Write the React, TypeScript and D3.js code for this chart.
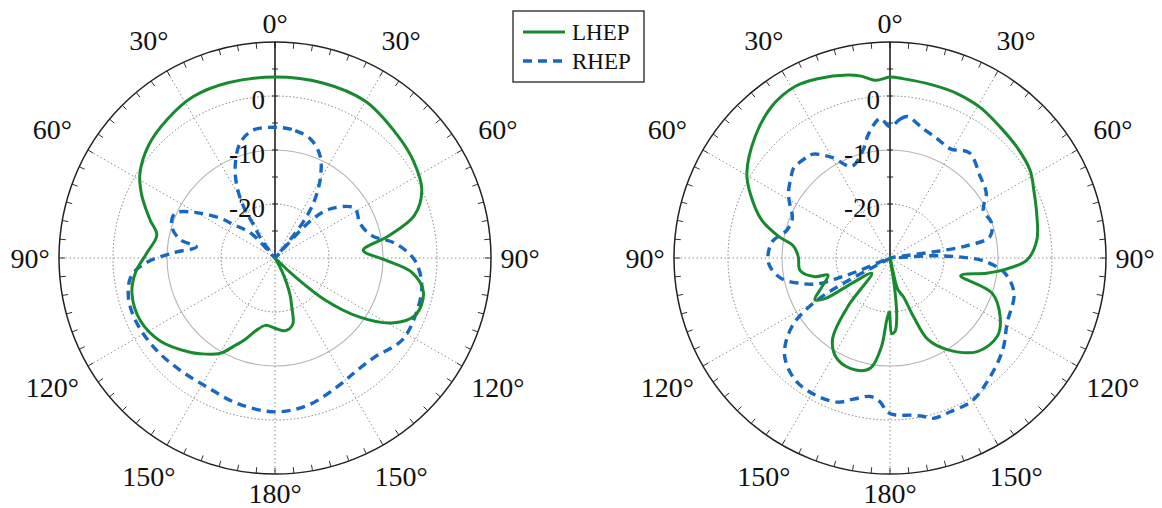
import React from 'react';
import * as d3 from 'd3';

// [angle in degrees clockwise from top, gain in dB]
const leftLhep = [
  [0, 3.5], [15, 3.6], [30, 3.5], [45, 2.1], [55, 1.3], [65, 0], [73, -3], [79, -8.6], [85, -13.6],
  [91, -9.6], [96, -4.5], [103, -1.8], [112, -1.9], [119, -5.2], [125, -11], [130, -18], [133, -25],
  [138, -30], [148, -30], [152, -27.5], [155, -25], [158, -22.5], [161, -20.5], [165, -17.3],
  [172, -16.4], [180, -17], [188, -17.4], [195, -16], [200, -14], [205, -12], [210, -9.6], [218, -7.5],
  [222, -6.5], [234, -3.8], [245, -2.5], [256, -2.7], [264, -4], [272, -6.2], [281, -7.7], [287, -5.8],
  [295, -2.8], [302, -0.5], [312, 1.4], [322, 2.5], [333, 3.5], [345, 3.6],
];

const leftRhep = [
  [0, -5.8], [9, -6.1], [17, -7.1], [24, -9.4], [30, -13.3], [35, -17.6], [38, -21.5], [40, -26],
  [42, -30], [44, -20], [49, -16], [58, -12.6], [68, -13], [77, -11.6], [83, -7.6], [91, -4.1],
  [101, -2.3], [113, -1.9], [123, -2], [135, -4], [145, -4.2], [152, -3.7], [167, -2.1], [180, -1.5],
  [195, -2.2], [208, -3], [220, -2.8], [232, -2.2], [245, -1.7], [255, -1.9], [263, -3.2], [268, -6.2],
  [273, -11.2], [278, -15.3], [281, -12.1], [287, -10], [294, -9.7], [300, -13.2], [306, -17.5],
  [309, -20.2], [316, -23.7], [320, -30], [323.5, -25.9], [327, -22.7], [328.5, -18.8], [332, -15],
  [336.5, -11.5], [343, -7.8], [350, -6],
];

const rightLhep = [
  [0, 3.5], [4, 3.3], [14, 3.0], [22, 2.9], [31, 2.5], [40, 1.7], [49, 1.2], [58, 0.6], [65, -0.6],
  [73, -1.6], [83, -2.6], [91, -4.7], [96, -8.9], [99, -11.9], [104, -16.5], [109, -10], [118, -6.9],
  [126, -5.4], [137, -6.3], [148, -10], [155, -13.3], [158, -18], [161, -22.4], [166, -24], [169, -30],
  [171, -25], [173.5, -19], [176, -16.4], [178.7, -16], [180.7, -20], [183, -18.5], [185.5, -13.5],
  [190, -9.3], [197, -8.3], [207, -8.8], [215, -11.4], [221, -18.1], [230, -25.6], [236.5, -21.5],
  [238, -15.8], [241, -14.1], [247, -16.3], [254.6, -18.1], [256, -15.7], [262, -13.2], [271, -13],
  [277, -12], [281, -9], [286.5, -5.2], [295, -1.4], [300.6, 0.8], [312, 3.6], [322, 5.6], [331, 6.3],
  [338, 5.8], [347, 4.8], [351, 4.1], [355.5, 3.0],
];

const rightRhep = [
  [0, -5.7], [4, -4.3], [7, -3.6], [14, -5.2], [22, -6.3], [29, -6.9], [37, -5.6], [48, -7.5],
  [56, -8.5], [63, -10.6], [71, -10.1], [78, -11.1], [81, -15.7], [82, -22], [84, -30], [87, -22],
  [89.5, -16.4], [92, -12.4], [97.6, -8.5], [106, -6.1], [119, -5.2], [129, -3.1], [140, -1.2],
  [150, 0.5], [159, 0.6], [165, 0.75], [168, 0], [172, -0.6], [178, -0.9], [181, -1.5], [184, -3.3],
  [188, -4.1], [194.5, -3], [200, -1.6], [209, -1.1], [218, -1.4], [227.5, -3.5], [235, -7.8],
  [239.5, -13.5], [241.5, -20.2], [245, -30], [247.7, -23.3], [249, -19.4], [250.5, -15.6],
  [254.3, -12.7], [259.4, -9.5], [267.5, -7.5], [277.5, -7.9], [285, -10.2], [292, -10.5], [298, -9],
  [302.5, -7.7], [309.4, -6.3], [313, -5.6], [320.4, -5.8], [323.6, -6.1], [330, -8.5], [337.3, -11.6],
  [346, -9.4], [350, -6.8], [356, -4.1],
];

const angleTicks = [0, 30, 60, 90, 120, 150, 180, 210, 240, 270, 300, 330];
const angleLabels = ['0°', '30°', '60°', '90°', '120°', '150°', '180°', '150°', '120°', '90°', '60°', '30°'];
const radialTicks = [-20, -10, 0];
const radialLabels = ['-20', '-10', '0'];
const seriesNames = ['LHEP', 'RHEP'];

const R = 216;
const GREEN = '#178a2e';
const BLUE = '#1668c2';
const FONT = '"Liberation Serif", "DejaVu Serif", serif';

const rad = (a) => (a * Math.PI) / 180;
const pt = (a, rr) => [rr * Math.sin(rad(a)), -rr * Math.cos(rad(a))];

const PolarPlot = ({ cx, cy, lhep, rhep }) => {
  const r = d3.scaleLinear().domain([-30, 10]).range([0, R]).clamp(true);
  const line = d3
    .lineRadial()
    .angle((d) => rad(d[0]))
    .radius((d) => r(d[1]))
    .curve(d3.curveCatmullRomClosed.alpha(0.5));

  const minorTicks = d3.range(0, 360, 5);
  const radialMinor = d3.range(-25, 10, 5);

  return (
    <g transform={`translate(${cx},${cy})`}>
      {/* rings */}
      <circle r={r(-20)} fill="none" stroke="#777" strokeWidth={1} strokeDasharray="1.4,2.2" />
      <circle r={r(-10)} fill="none" stroke="#b5b5b5" strokeWidth={1.1} />
      <circle r={r(0)} fill="none" stroke="#777" strokeWidth={1} strokeDasharray="1.4,2.2" />
      {/* spokes */}
      {angleTicks.filter((a) => a !== 0).map((a) => {
        const [x, y] = pt(a, R);
        return <line key={a} x1={0} y1={0} x2={x} y2={y} stroke="#888" strokeWidth={1} strokeDasharray="1.4,2.6" />;
      })}
      {/* outer ticks */}
      {minorTicks.map((a) => {
        const [x1, y1] = pt(a, R);
        const [x2, y2] = pt(a, R - 6);
        return <line key={a} x1={x1} y1={y1} x2={x2} y2={y2} stroke="#333" strokeWidth={1} />;
      })}
      <circle r={R} fill="none" stroke="#222" strokeWidth={1.5} />
      {/* radial axis */}
      <line x1={0} y1={0} x2={0} y2={-R} stroke="#111" strokeWidth={1.5} />
      {radialMinor.map((v) => (
        <line key={v} x1={-3} x2={3} y1={-r(v)} y2={-r(v)} stroke="#222" strokeWidth={1} />
      ))}
      {/* curves */}
      <path d={line(rhep)} fill="none" stroke={BLUE} strokeWidth={3.4} strokeDasharray="9,6" />
      <path d={line(lhep)} fill="none" stroke={GREEN} strokeWidth={3} />
      {/* radial labels */}
      {radialTicks.map((v, i) => (
        <text key={v} x={-10} y={-r(v) + 12.5} textAnchor="end" fontSize={27} fontFamily={FONT} fill="#111">
          {radialLabels[i]}
        </text>
      ))}
      {/* angle labels */}
      {angleTicks.map((a, i) => {
        const s = Math.sin(rad(a));
        const rl = 235 + 10 * s * s + 17 * Math.abs(Math.sin(rad(2 * a)));
        const [x, y] = pt(a, rl);
        return (
          <text key={a} x={x} y={y + 10} textAnchor="middle" fontSize={28} fontFamily={FONT} fill="#111">
            {angleLabels[i]}
          </text>
        );
      })}
    </g>
  );
};

const Legend = ({ x, y }) => (
  <g transform={`translate(${x},${y})`}>
    <rect x={0} y={0} width={131} height={71} fill="white" stroke="#222" strokeWidth={1.3} />
    <line x1={10} x2={52} y1={21} y2={21} stroke={GREEN} strokeWidth={3} />
    <line x1={10} x2={52} y1={50} y2={50} stroke={BLUE} strokeWidth={3.4} strokeDasharray="9,6" />
    {seriesNames.map((n, i) => (
      <text key={n} x={59} y={29 + i * 29} fontSize={23} fontFamily={FONT} fill="#111">
        {n}
      </text>
    ))}
  </g>
);

export default function App() {
  return (
    <svg width={1162} height={508} style={{ position: 'absolute', left: 0, top: 0, background: 'white' }}>
      <PolarPlot cx={275} cy={258} lhep={leftLhep} rhep={leftRhep} />
      <PolarPlot cx={890} cy={258} lhep={rightLhep} rhep={rightRhep} />
      <Legend x={513} y={11} />
    </svg>
  );
}
